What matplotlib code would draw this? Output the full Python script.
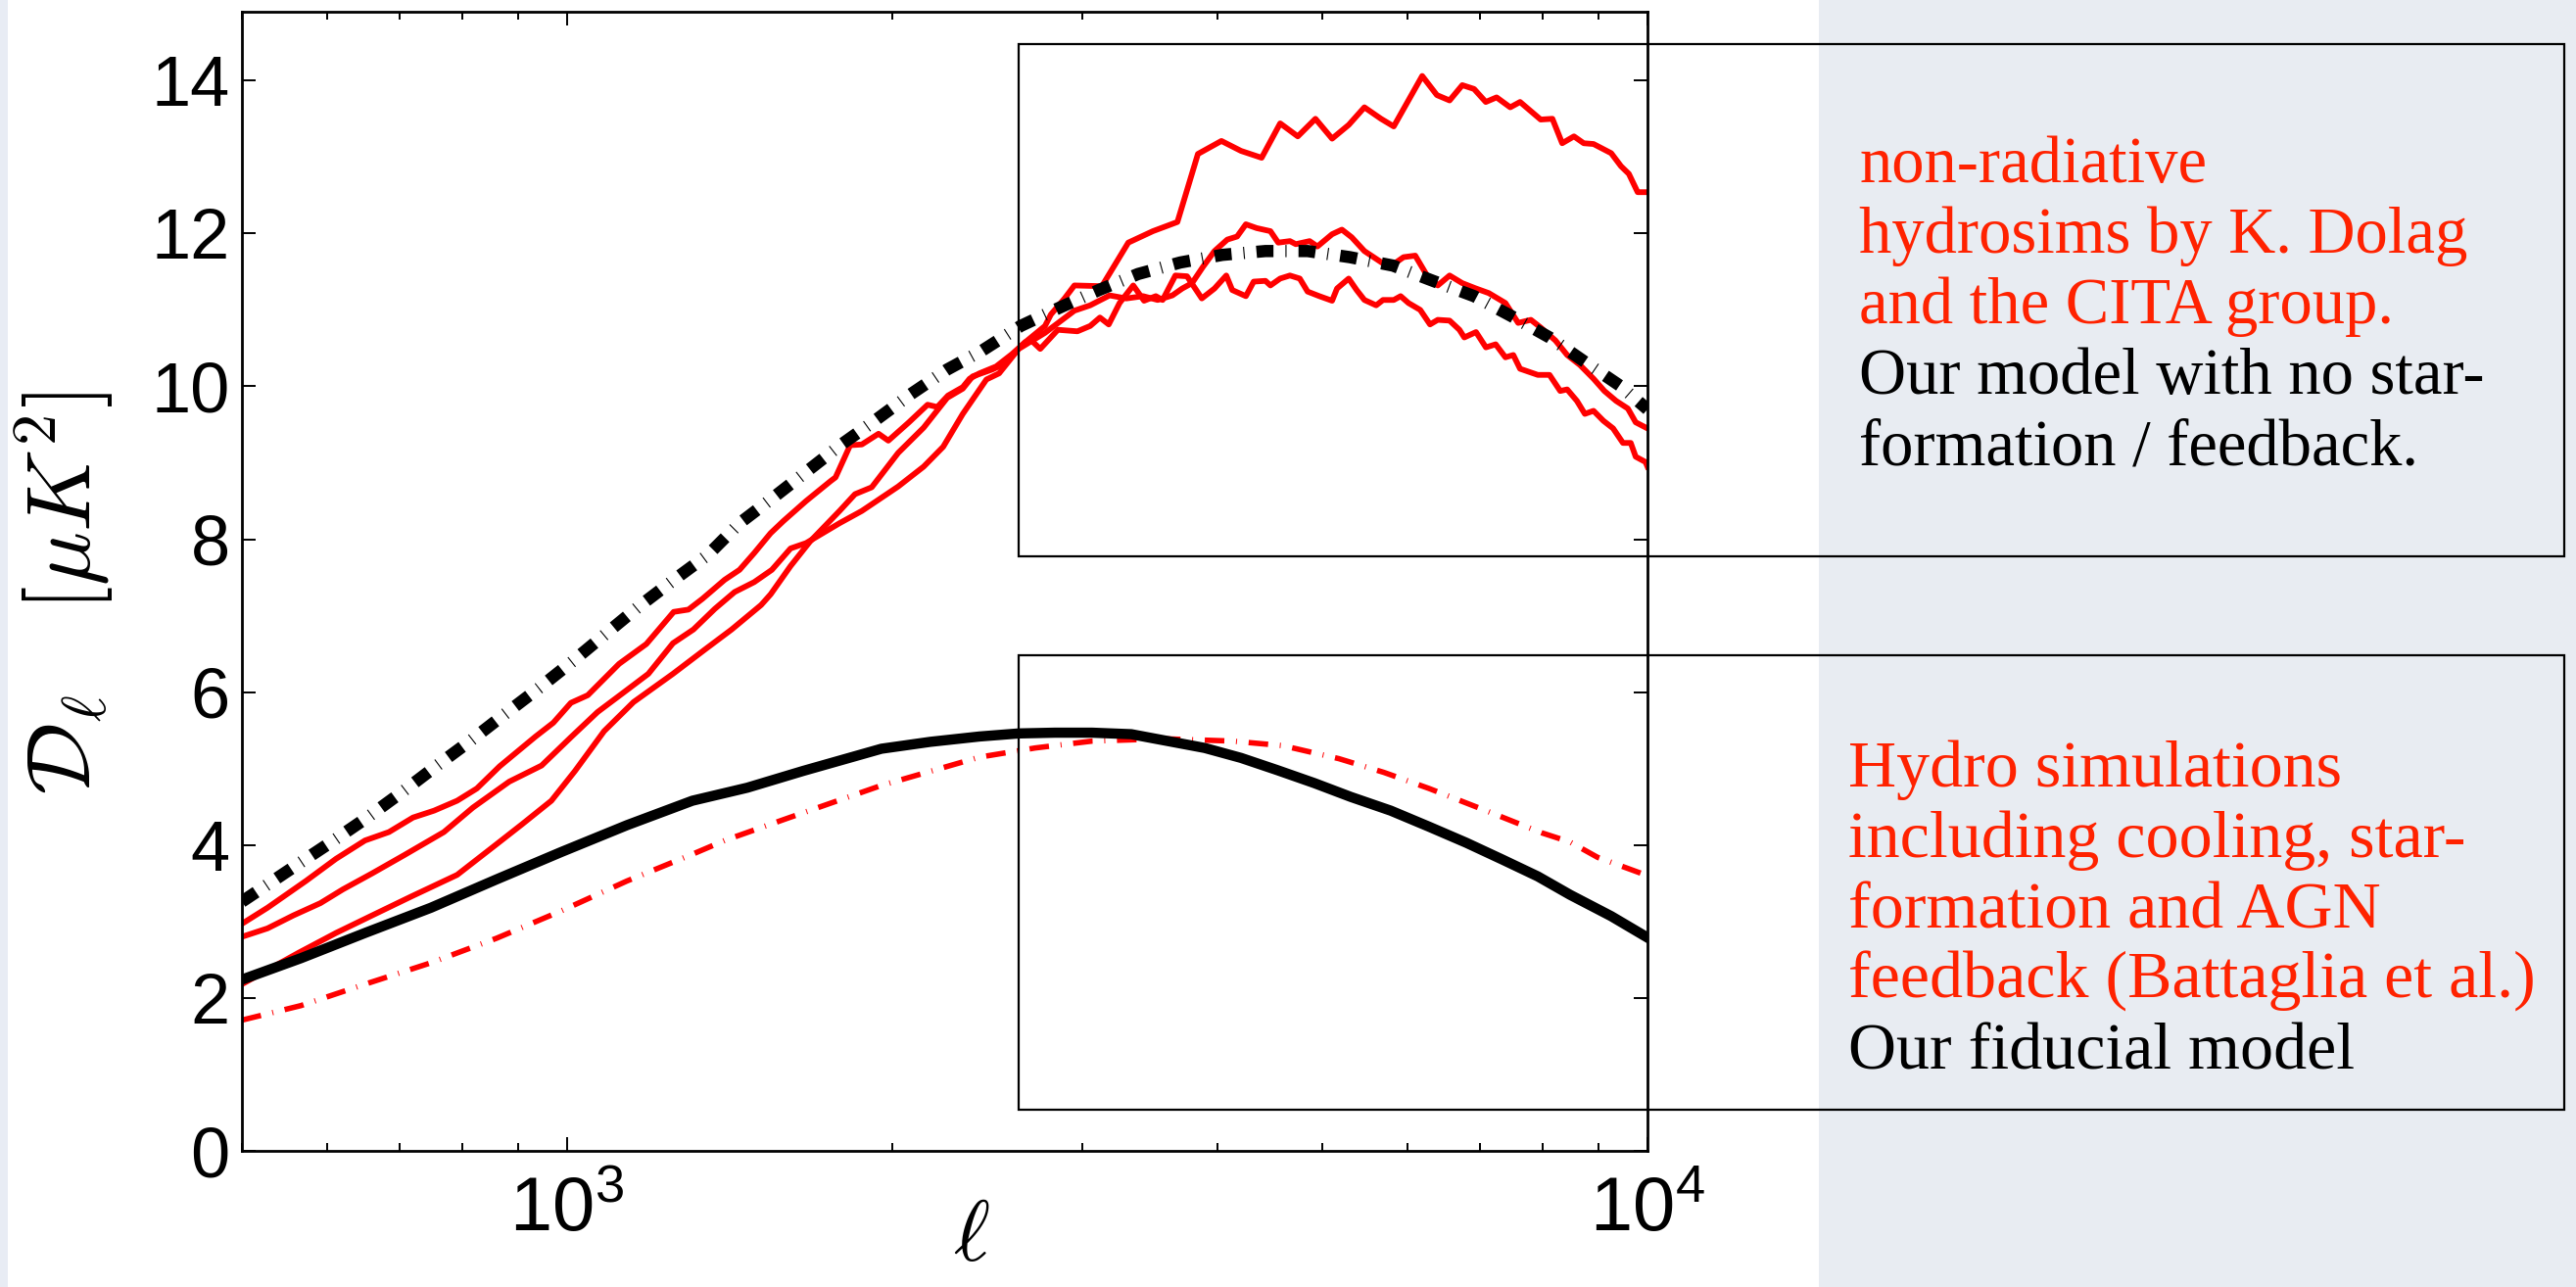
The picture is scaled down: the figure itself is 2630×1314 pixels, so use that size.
import matplotlib
matplotlib.use('Agg')
import matplotlib.pyplot as plt
from matplotlib.patches import Rectangle
from matplotlib.ticker import LogLocator, NullFormatter, NullLocator

plt.rcParams['font.family'] = ['Liberation Sans', 'DejaVu Sans']
plt.rcParams['mathtext.fontset'] = 'custom'
plt.rcParams['mathtext.rm'] = 'Liberation Sans'
plt.rcParams['mathtext.it'] = 'Liberation Sans:italic'
plt.rcParams['mathtext.bf'] = 'Liberation Sans:bold'
plt.rcParams['lines.scale_dashes'] = False

# --- data (ell, D_ell in muK^2) ---

# non-radiative hydro sim, highest at small scales
ell_a = [500, 528, 573, 611, 650, 684, 720, 753, 791, 825, 866, 935, 971, 1008,
         1045, 1117, 1184, 1255, 1295, 1334, 1399, 1444, 1490, 1543, 1586, 1664,
         1753, 1772, 1828, 1874, 1942, 1983, 2072, 2156, 2201, 2252, 2324, 2358,
         2408, 2495, 2580, 2656, 2769, 2804, 2887, 2948, 3126, 3307, 3485, 3672,
         3836, 4033, 4205, 4394, 4571, 4746, 4928, 5106, 5290, 5470, 5667, 5823,
         6187, 6384, 6559, 6739, 6910, 7085, 7250, 7464, 7622, 7964, 8166, 8338,
         8550, 8730, 8914, 9256, 9451, 9611, 9793, 10000]
dl_a = [2.97, 3.18, 3.53, 3.82, 4.06, 4.17, 4.36, 4.45, 4.58, 4.74, 5.03, 5.42, 5.60, 5.86,
        5.96, 6.37, 6.63, 7.05, 7.08, 7.22, 7.47, 7.60, 7.82, 8.08, 8.24, 8.50,
        8.76, 8.81, 9.23, 9.24, 9.38, 9.29, 9.53, 9.76, 9.73, 9.88, 9.99, 10.10,
        10.17, 10.26, 10.42, 10.58, 10.79, 10.94, 11.15, 11.32, 11.31, 11.88, 12.03, 12.15,
        13.04, 13.21, 13.08, 12.99, 13.44, 13.27, 13.50, 13.24, 13.42, 13.65, 13.50, 13.40,
        14.06, 13.81, 13.74, 13.94, 13.89, 13.72, 13.78, 13.65, 13.72, 13.49, 13.50, 13.18,
        13.27, 13.18, 13.17, 13.05, 12.88, 12.78, 12.54, 12.54]

# second non-radiative sim
ell_b = [500, 528, 558, 591, 620, 660, 707, 769, 818, 884, 947, 1008, 1067, 1129,
         1189, 1253, 1309, 1370, 1429, 1490, 1547, 1610, 1664, 1787, 1874, 2025,
         2138, 2229, 2324, 2444, 2511, 2618, 2769, 2948, 3049, 3178, 3293, 3413,
         3521, 3633, 3710, 3788, 3876, 3974, 4084, 4170, 4249, 4348, 4477, 4552,
         4667, 4726, 4867, 4949, 5106, 5214, 5324, 5470, 5703, 5823, 5946, 6096,
         6251, 6396, 6559, 6739, 6939, 7130, 7388, 7591, 7800, 7964, 8219, 8427,
         8659, 8914, 9122, 9353, 9591, 9752, 10000]
dl_b = [2.80, 2.91, 3.08, 3.24, 3.42, 3.63, 3.87, 4.17, 4.49, 4.83, 5.04, 5.41, 5.74, 6.00,
        6.24, 6.64, 6.82, 7.09, 7.31, 7.44, 7.60, 7.88, 7.95, 8.21, 8.37, 8.69,
        8.95, 9.21, 9.64, 10.09, 10.17, 10.49, 10.70, 10.99, 11.06, 11.19, 11.15, 11.18,
        11.13, 11.19, 11.28, 11.35, 11.56, 11.77, 11.92, 11.96, 12.12, 12.07, 12.03, 11.88,
        11.90, 11.86, 11.90, 11.83, 11.99, 12.05, 11.95, 11.77, 11.60, 11.60, 11.69, 11.71,
        11.45, 11.32, 11.45, 11.35, 11.28, 11.22, 11.09, 10.83, 10.87, 10.77, 10.60, 10.41,
        10.28, 10.10, 9.94, 9.81, 9.71, 9.53, 9.45]

# third non-radiative sim
ell_c = [500, 564, 611, 660, 718, 791, 853, 908, 967, 1017, 1082, 1152, 1253, 1342,
         1420, 1512, 1543, 1610, 1678, 1787, 1847, 1914, 2025, 2138, 2248, 2324,
         2373, 2474, 2527, 2656, 2690, 2741, 2846, 2967, 3049, 3113, 3172, 3246,
         3342, 3420, 3507, 3558, 3656, 3748, 3868, 3974, 4033, 4075, 4127, 4249,
         4320, 4430, 4477, 4571, 4667, 4766, 4846, 4969, 5106, 5160, 5290, 5380,
         5470, 5609, 5691, 5823, 5909, 6009, 6161, 6291, 6396, 6559, 6698, 6768,
         6939, 7087, 7236, 7388, 7513, 7622, 7916, 8116, 8303, 8427, 8604, 8751,
         8914, 9103, 9294, 9491, 9650, 9752, 9959, 10000]
dl_c = [2.18, 2.59, 2.85, 3.08, 3.33, 3.61, 3.97, 4.27, 4.58, 4.97, 5.49, 5.87, 6.24, 6.56,
        6.82, 7.14, 7.28, 7.65, 7.97, 8.37, 8.59, 8.68, 9.13, 9.46, 9.85, 9.97,
        10.13, 10.22, 10.28, 10.58, 10.60, 10.49, 10.74, 10.72, 10.79, 10.90, 10.81, 11.09,
        11.32, 11.12, 11.18, 11.13, 11.45, 11.44, 11.15, 11.28, 11.38, 11.45, 11.26, 11.18,
        11.37, 11.38, 11.32, 11.41, 11.45, 11.41, 11.24, 11.18, 11.12, 11.28, 11.41, 11.26,
        11.13, 11.06, 11.13, 11.13, 11.18, 11.09, 11.00, 10.81, 10.87, 10.86, 10.74, 10.64,
        10.71, 10.51, 10.55, 10.38, 10.41, 10.23, 10.15, 10.15, 9.94, 9.96, 9.81, 9.64,
        9.68, 9.55, 9.45, 9.26, 9.26, 9.08, 9.01, 8.95]

# our model, no star formation / feedback
ell_nr = [500, 562, 605, 653, 706, 756, 813, 875, 941, 1013, 1085, 1165, 1253, 1351,
          1444, 1553, 1664, 1790, 1926, 2081, 2248, 2423, 2629, 2857, 3106, 3377,
          3694, 4041, 4430, 4846, 5302, 5812, 6331, 6910, 7481, 8116, 8751, 9451, 10000]
dl_nr = [3.26, 3.74, 4.04, 4.36, 4.71, 5.03, 5.36, 5.71, 6.05, 6.41, 6.76, 7.12, 7.46, 7.80,
         8.21, 8.55, 8.88, 9.23, 9.55, 9.90, 10.22, 10.47, 10.79, 11.03, 11.26, 11.47,
         11.62, 11.72, 11.77, 11.77, 11.69, 11.58, 11.38, 11.18, 10.92, 10.64, 10.32, 10.00, 9.70]

# our fiducial model
ell_fid = [500, 567, 650, 748, 860, 988, 1136, 1306, 1468, 1654, 1954, 2168, 2408,
           2618, 2828, 3061, 3328, 3892, 4205, 4543, 4917, 5313, 5786, 6278, 6797,
           7341, 7916, 8478, 9256, 10000]
dl_fid = [2.24, 2.52, 2.85, 3.18, 3.55, 3.91, 4.26, 4.58, 4.75, 4.97, 5.26, 5.35, 5.42,
          5.46, 5.47, 5.47, 5.45, 5.27, 5.14, 4.98, 4.81, 4.63, 4.45, 4.24, 4.03,
          3.81, 3.59, 3.35, 3.07, 2.79]

# Battaglia et al. hydro sims with cooling, star formation and AGN feedback
ell_bat = [500, 567, 650, 748, 860, 988, 1136, 1306, 1399, 1599, 1954, 2408, 2712,
           3061, 3573, 4127, 4599, 5181, 5703, 6278, 7087, 7982, 8478, 8990, 10000]
dl_bat = [1.71, 1.90, 2.18, 2.46, 2.78, 3.14, 3.53, 3.88, 4.06, 4.35, 4.78, 5.15, 5.27,
          5.36, 5.39, 5.36, 5.30, 5.13, 4.95, 4.74, 4.45, 4.16, 4.04, 3.84, 3.60]

yticks = [0, 2, 4, 6, 8, 10, 12, 14]

text_top = [("non-radiative", "#ff2200"),
            ("hydrosims by K. Dolag", "#ff2200"),
            ("and the CITA group.", "#ff2200"),
            ("Our model with no star-", "black"),
            ("formation / feedback.", "black")]
text_bot = [("Hydro simulations", "#ff2200"),
            ("including cooling, star-", "#ff2200"),
            ("formation and AGN", "#ff2200"),
            ("feedback (Battaglia et al.)", "#ff2200"),
            ("Our fiducial model", "black")]

W, H = 2630, 1314
fig = plt.figure(figsize=(W / 100, H / 100), dpi=100)

# pale slide background on the right and a thin strip on the left
fig.add_artist(Rectangle((1857 / W, 0), 1 - 1857 / W, 1, transform=fig.transFigure,
                         fc='#e8ecf2', ec='none', zorder=-10))
fig.add_artist(Rectangle((0, 0), 8 / W, 1, transform=fig.transFigure,
                         fc='#e8ecf4', ec='none', zorder=-10))

ax = fig.add_axes([247 / W, 1 - 1175 / H, 1435 / W, 1163 / H])

red = '#ff0000'
ax.plot(ell_a, dl_a, color=red, lw=4.2)
ax.plot(ell_b, dl_b, color=red, lw=4.2)
ax.plot(ell_c, dl_c, color=red, lw=4.2)
ax.plot(ell_bat, dl_bat, color=red, lw=4.0, dashes=[14.4, 8.6, 0.7, 8.6])
ax.plot(ell_fid, dl_fid, color='black', lw=7.5)
ax.plot(ell_nr, dl_nr, color='black', lw=9.0, dashes=[12.5, 8.8, 0.8, 8.8])

ax.set_xscale('log')
ax.set_xlim(500, 1e4)
ax.set_ylim(0, 14.9)
ax.set_yticks(yticks)
ax.xaxis.set_major_locator(LogLocator(base=10))
ax.xaxis.set_minor_locator(LogLocator(base=10, subs=range(2, 10)))
ax.xaxis.set_minor_formatter(NullFormatter())
ax.yaxis.set_minor_locator(NullLocator())

ax.tick_params(which='both', direction='in', top=True, right=True, width=1.4)
ax.tick_params(which='major', length=10)
ax.tick_params(which='minor', length=6)
ax.tick_params(axis='y', pad=9, labelsize=52)
ax.tick_params(axis='x', pad=18, labelsize=56)
for s in ax.spines.values():
    s.set_linewidth(2.0)

ax.set_xlabel(r'$\ell$', fontsize=64, math_fontfamily='cm')
ax.xaxis.set_label_coords(0.519, -0.04)
ax.set_ylabel(r'$\mathcal{D}_\ell\quad[\mu K^2]$', fontsize=66, math_fontfamily='cm')
ax.yaxis.set_label_coords(-0.09, 0.49)

# annotation boxes
fig.add_artist(Rectangle((1040 / W, 1 - 568 / H), 1578 / W, 523 / H,
                         transform=fig.transFigure, fill=False, ec='black', lw=1.6, zorder=10))
fig.add_artist(Rectangle((1040 / W, 1 - 1133 / H), 1578 / W, 464 / H,
                         transform=fig.transFigure, fill=False, ec='black', lw=1.6, zorder=10))

for i, (s, c) in enumerate(text_top):
    fig.text(1898 / W, 1 - (186 + 72 * i) / H, s, color=c, fontsize=48,
             family='Liberation Serif', va='baseline')
for i, (s, c) in enumerate(text_bot):
    fig.text(1887 / W, 1 - (803 + 72 * i) / H, s, color=c, fontsize=49,
             family='Liberation Serif', va='baseline')

fig.savefig('out.png', dpi=100)
